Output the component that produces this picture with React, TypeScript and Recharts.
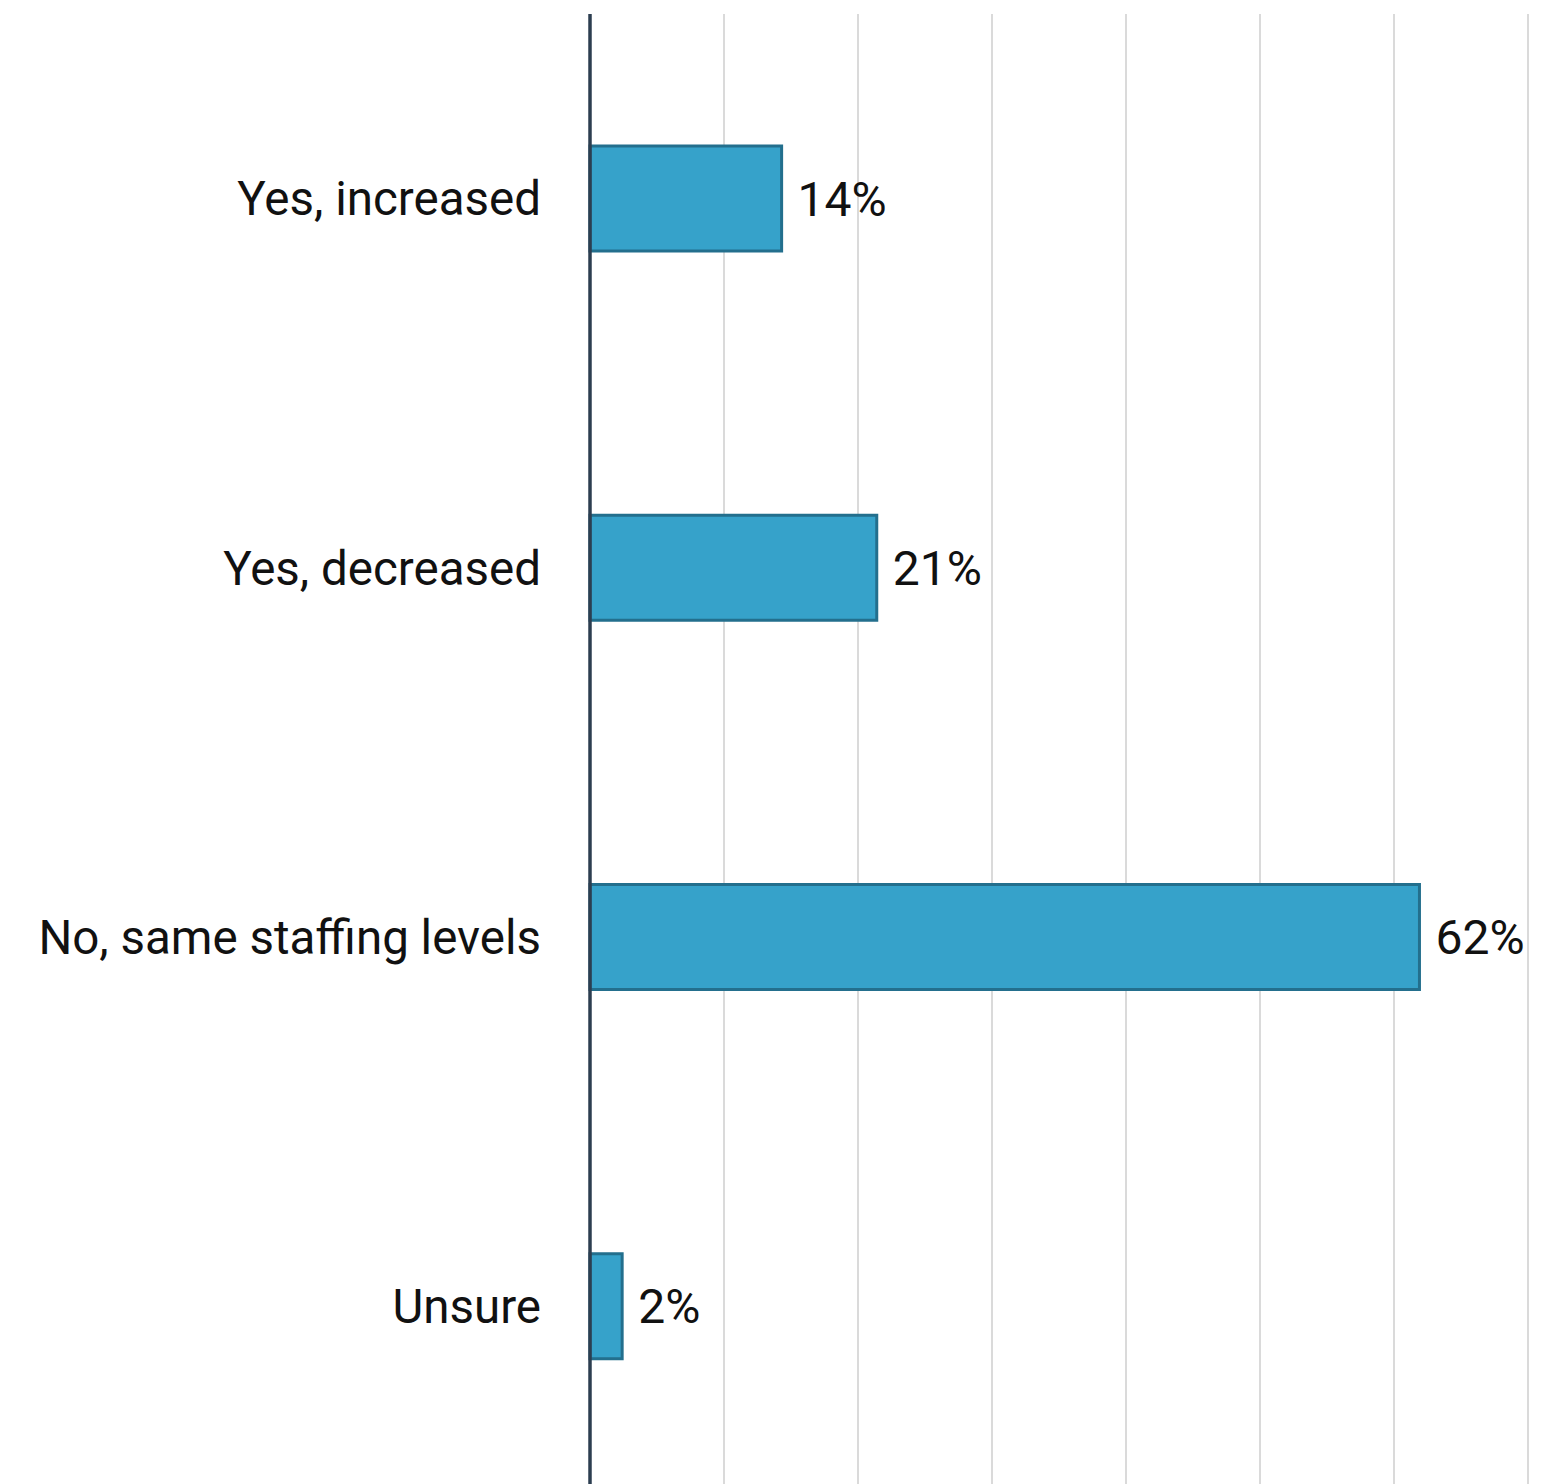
import { BarChart, Bar, XAxis, YAxis, CartesianGrid, LabelList } from 'recharts';

const categories = ['Yes, increased', 'Yes, decreased', 'No, same staffing levels', 'Unsure'];
const shares = [14.3, 21.4, 61.9, 2.4];
const xTicks = [0, 10, 20, 30, 40, 50, 60, 70];

const data = categories.map((name, i) => ({ name, value: shares[i] }));

export default function App() {
    return (
        <div
            style={{
                position: 'absolute',
                left: 0,
                top: 0,
                width: 1556,
                height: 1484,
                overflow: 'hidden',
                background: '#fff',
                fontFamily: 'Roboto, sans-serif',
            }}
        >
            <BarChart
                width={1556}
                height={1492}
                data={data}
                layout="vertical"
                margin={{ top: 14, right: 28, bottom: 1, left: 0 }}
            >
                <CartesianGrid horizontal={false} stroke="#dadada" strokeWidth={2} />
                <XAxis type="number" domain={[0, 70]} ticks={xTicks} hide />
                <YAxis
                    type="category"
                    dataKey="name"
                    width={590}
                    tickLine={false}
                    tickSize={0}
                    tickMargin={49}
                    axisLine={{ stroke: '#2c3e50', strokeWidth: 3.5 }}
                    tick={{ fill: '#111111', fontSize: 47.5, fontFamily: 'Roboto' }}
                />
                <Bar
                    dataKey="value"
                    fill="#36a2ca"
                    stroke="#236f8d"
                    strokeWidth={3}
                    barSize={105}
                    isAnimationActive={false}
                >
                    <LabelList
                        dataKey="value"
                        position="right"
                        offset={16}
                        formatter={(v: number) => `${Math.round(v)}%`}
                        style={{ fill: '#111111', fontSize: 48, fontFamily: 'Roboto' }}
                    />
                </Bar>
            </BarChart>
        </div>
    );
}
